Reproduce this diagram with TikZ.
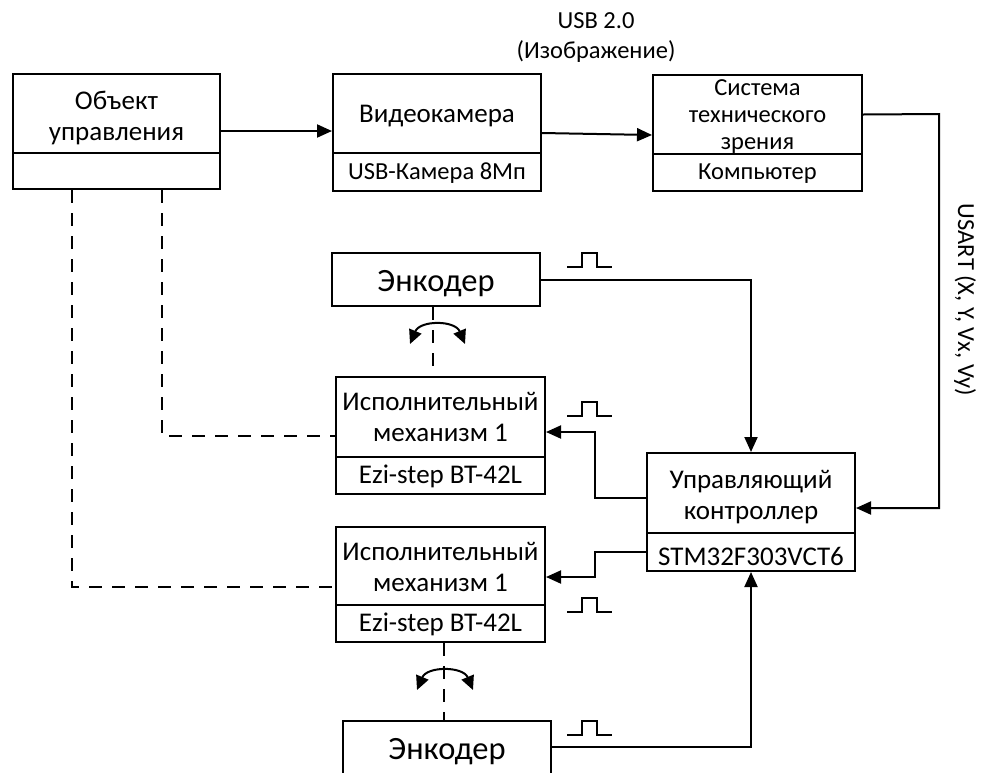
\documentclass[tikz,border=0pt]{standalone}
\usepackage{fontspec}
\setmainfont{Carlito}
\usetikzlibrary{arrows.meta}
\begin{document}
\begin{tikzpicture}[x=1pt,y=-1pt,
  box/.style={draw, line width=2pt, inner sep=0pt},
  txt/.style={inner sep=0pt, align=center},
  big/.style={font=\fontsize{27}{31}\selectfont},
  small/.style={font=\fontsize{24.5}{27}\selectfont},
  enc/.style={font=\fontsize{32.5}{36}\selectfont},
  conn/.style={line width=2pt},
  arr/.style={conn, -{Triangle[length=15pt,width=13pt]}},
  dsh/.style={conn, dash pattern=on 13pt off 10pt},
  rot/.style={line width=2pt, {Triangle[length=14pt,width=13pt]}-{Triangle[length=14pt,width=13pt]}},
  pulse/.pic={\draw[line width=2pt] (0,0) -- (15,0) -- (15,-14) -- (30,-14) -- (30,0) -- (45,0);}
  ]
\useasboundingbox (0,0) rectangle (981,772);
% boxes
\node[box,minimum width=207pt,minimum height=79pt] (obj) at (116.5,113.5) {};
\node[box,minimum width=207pt,minimum height=36pt] (objb) at (116.5,171) {};
\node[box,minimum width=208pt,minimum height=79pt] (cam) at (437,113.5) {};
\node[box,minimum width=208pt,minimum height=38pt] (camb) at (437,172) {};
\node[box,minimum width=209pt,minimum height=79pt] (sys) at (757.5,114.5) {};
\node[box,minimum width=209pt,minimum height=37pt] (sysb) at (757.5,172.5) {};
\node[box,minimum width=208pt,minimum height=53pt] (enc1) at (436,279.5) {};
\node[box,minimum width=209pt,minimum height=80pt] (act1) at (440.5,417) {};
\node[box,minimum width=209pt,minimum height=37pt] (act1b) at (440.5,475.5) {};
\node[box,minimum width=208pt,minimum height=80pt] (ctrl) at (751,493) {};
\node[box,minimum width=208pt,minimum height=38pt] (ctrlb) at (751,552) {};
\node[box,minimum width=209pt,minimum height=78pt] (act2) at (440.5,566) {};
\node[box,minimum width=209pt,minimum height=37pt] (act2b) at (440.5,623.5) {};
\node[box,minimum width=208pt,minimum height=62pt] (enc2) at (447,752) {};
% texts
\node[txt,big] (tobj) at ([yshift=-4pt]obj.center) {Объект\\управления};
\node[txt,big] (tcam) at ([yshift=-3pt]cam.center) {Видеокамера};
\node[txt,small] (tcamb) at ([yshift=-1pt]camb.center) {USB-Камера 8Мп};
\node[txt,small] (tsys) at ([yshift=-2.5pt]sys.center) {Система\\технического\\зрения};
\node[txt,small] (tsysb) at ([yshift=-1pt]sysb.center) {Компьютер};
\node[txt,enc] (tenc1) at ([yshift=-4pt]enc1.center) {Энкодер};
\node[txt,big] (tact1) at ([yshift=0pt]act1.center) {Исполнительный\\механизм 1};
\node[txt,big] (tact1b) at ([yshift=-1pt]act1b.center) {Ezi-step BT-42L};
\node[txt,big] (tctrl) at ([yshift=-4pt]ctrl.center) {Управляющий\\контроллер};
\node[txt,big] (tctrlb) at ([yshift=-4pt]ctrlb.center) {STM32F303VCT6};
\node[txt,big] (tact2) at ([yshift=-1pt]act2.center) {Исполнительный\\механизм 1};
\node[txt,big] (tact2b) at ([yshift=-1pt]act2b.center) {Ezi-step BT-42L};
\node[txt,enc] (tenc2) at ([yshift=0pt]enc2.center) {Энкодер};
% labels
\node[txt,small,font=\fontsize{24.5}{30}\selectfont] (usb) at (596,38) {USB 2.0\\(Изображение)};
\node[txt,small,rotate=-90] (usart) at (965,300) {USART (X, Y, Vx, Vy)};
% connectors
\draw[arr] ([yshift=-17.5pt]obj.east) -- ([yshift=-17.5pt]cam.west);
\draw[arr] ([yshift=-19.5pt]cam.east) -- ([yshift=-20.5pt]sys.west);
\coordinate (usR) at (939,114);
\draw[arr] (sys.east) -- (usR) |- ([yshift=-15pt]ctrl.east);
\draw[arr] (enc1.east) -| (ctrl.north);
\draw[arr] ([yshift=-5pt]ctrl.west) -- ++(-51,0) |- ([yshift=-15pt]act1.east);
\draw[arr] (ctrlb.west) -- ++(-51,0) |- ([yshift=-11pt]act2.east);
\draw[arr] ([yshift=5pt]enc2.east) -| (ctrlb.south);
% dashed mechanical links
\draw[dsh] ([xshift=-44.5pt]objb.south) |- ([yshift=-21pt]act2.west);
\draw[dsh] ([xshift=45.5pt]objb.south) |- ([yshift=-19pt]act1.west);
\draw[dsh] ([xshift=-3pt]enc1.south) -- ([xshift=-7.5pt]act1.north);
\draw[dsh] ([xshift=3.5pt]act2b.south) -- ([xshift=-3pt]enc2.north);
% rotation arrows
\coordinate (r1a) at (410,344); \coordinate (r1b) at (465,344);
\draw[rot] (r1a) .. controls (420,320) and (455,320) .. (r1b);
\coordinate (r2a) at (417,690); \coordinate (r2b) at (473,690);
\draw[rot] (r2a) .. controls (427,666) and (463,666) .. (r2b);
% pulses
\pic at (567,267) {pulse};
\pic at (567,416) {pulse};
\pic at (567,612) {pulse};
\pic at (567,735) {pulse};
\end{tikzpicture}
\end{document}
